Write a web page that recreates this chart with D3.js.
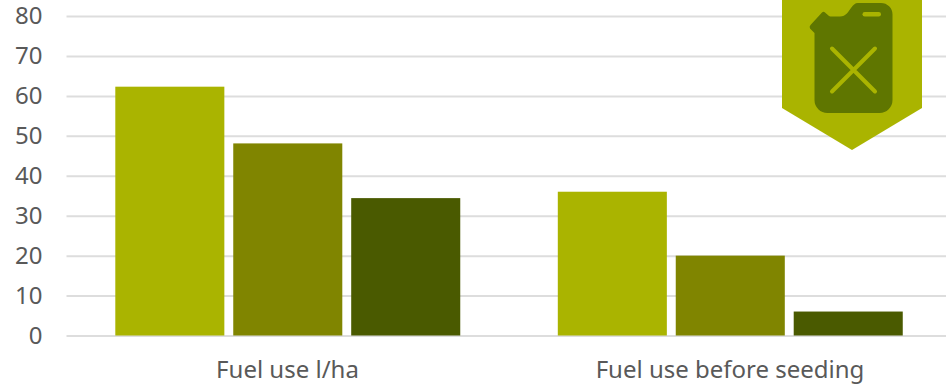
<!DOCTYPE html>
<html>
<head>
<meta charset="utf-8">
<script src="https://cdn.jsdelivr.net/npm/d3@7"></script>
<style>
html,body{margin:0;padding:0;background:#fff;overflow:hidden}
svg{display:block}
text{font-family:"Noto Sans","Open Sans",sans-serif;fill:#595959}
</style>
</head>
<body>
<svg id="chart" width="946" height="385"></svg>
<script>
const categories = ["Fuel use l/ha", "Fuel use before seeding"];
const seriesNames = ["a", "b", "c"];
const seriesColors = ["#aab400", "#808500", "#4a5a00"];
const seriesA = [62.3, 36];
const seriesB = [48.1, 20];
const seriesC = [34.4, 6];
const yTicks = [0, 10, 20, 30, 40, 50, 60, 70, 80];

const svg = d3.select("#chart");
const y = d3.scaleLinear().domain([0, 80]).range([335.5, 16]);
const x0 = d3.scaleBand().domain(categories).range([66.25, 951.25]);
const x1 = d3.scaleBand().domain(seriesNames).range([49.05, 394]).paddingInner(0.0755);

// Horizontal gridlines and y tick labels
const yAxis = svg.append("g")
  .attr("transform", "translate(66.5,0)")
  .call(d3.axisLeft(y).tickValues(yTicks).tickSize(-880).tickPadding(24));
yAxis.select(".domain").remove();
yAxis.selectAll(".tick line").attr("stroke", "#dddddd").attr("stroke-width", 2);
yAxis.selectAll(".tick text").attr("font-size", 24).attr("fill", "#595959");

// Grouped bars
const allSeries = [seriesA, seriesB, seriesC];
const groups = svg.append("g").selectAll("g")
  .data(categories)
  .join("g")
  .attr("transform", d => `translate(${x0(d)},0)`);
groups.selectAll("rect")
  .data((d, i) => seriesNames.map((s, j) => ({ s, j, v: allSeries[j][i] })))
  .join("rect")
  .attr("x", d => x1(d.s))
  .attr("width", x1.bandwidth())
  .attr("y", d => y(d.v))
  .attr("height", d => y(0) - y(d.v))
  .attr("fill", d => seriesColors[d.j]);

// Category labels
const xAxis = svg.append("g")
  .attr("transform", "translate(0,335.5)")
  .call(d3.axisBottom(x0).tickSize(0).tickPadding(25));
xAxis.select(".domain").remove();
xAxis.selectAll(".tick text").attr("font-size", 24).attr("fill", "#595959");

// Fuel can badge
const badge = svg.append("g");
badge.append("path")
  .attr("d", "M782,0H922V108L852,150L782,108Z")
  .attr("fill", "#aab400");
badge.append("path")
  .attr("d", "M858,3H881A11.5,11.5 0 0 1 892.5,14.5V100A13,13 0 0 1 879.5,113H827.5A13,13 0 0 1 814.5,100V33L810,28.5Q809,26.5 810.5,25L822,12.5Q823.5,11 825,12.5L829,16Q830,16.5 832,16.5H840C846,16.5 848,12 851,8C853,5 855,3 858,3Z")
  .attr("fill", "#5f7600");
badge.append("rect")
  .attr("x", 862.5).attr("y", 12).attr("width", 18.5).attr("height", 4.5).attr("rx", 2.25)
  .attr("fill", "#aab400");
badge.append("path")
  .attr("d", "M832,48.5L875,91.5M875,48.5L832,91.5")
  .attr("stroke", "#aab400").attr("stroke-width", 4).attr("stroke-linecap", "round").attr("fill", "none");
</script>
</body>
</html>
